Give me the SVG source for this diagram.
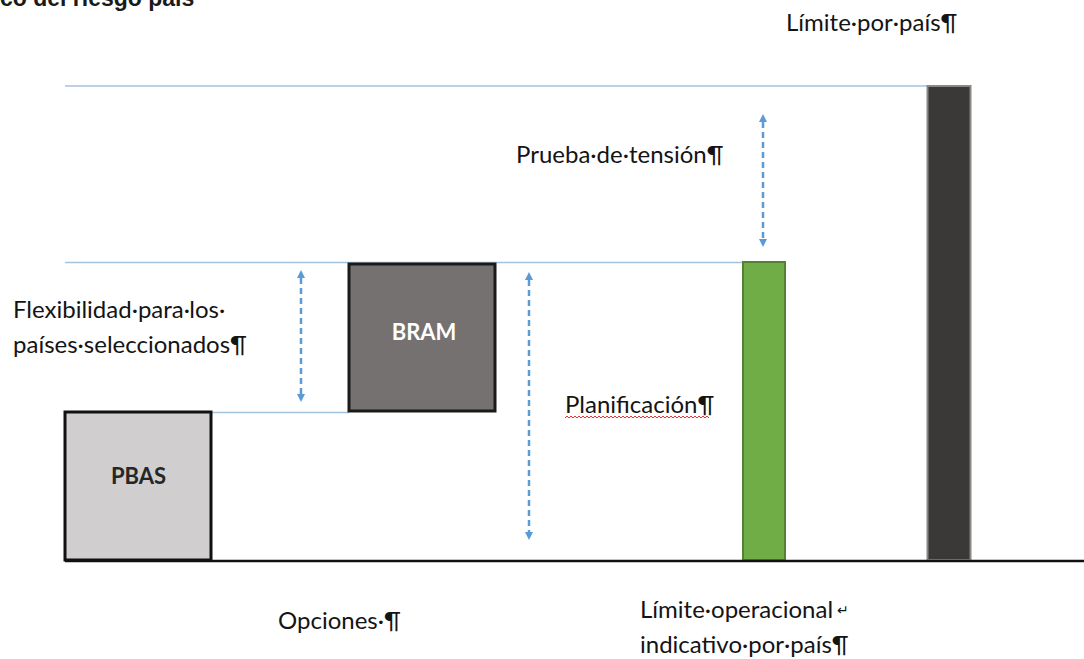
<svg xmlns="http://www.w3.org/2000/svg" width="1084" height="659" viewBox="0 0 1084 659">
<style>
.lbl{font-family:Lato,"Open Sans","Liberation Sans",sans-serif;font-size:24px;fill:#141414}
.ref{stroke:#a3c2de;stroke-width:1.5;fill:none}
.dim{stroke:#5b9bd5;stroke-width:2.5;stroke-dasharray:6 4;fill:none}
.box{font-family:Lato,"Open Sans","Liberation Sans",sans-serif;font-size:22px;font-weight:bold;text-anchor:middle}
</style>
<defs>
<marker id="ah" viewBox="0 0 10 10" refX="0" refY="5" markerUnits="userSpaceOnUse" markerWidth="8" markerHeight="10" orient="auto-start-reverse">
<path d="M0,0 L10,5 L0,10 z" fill="#5b9bd5"/>
</marker>
</defs>
<rect width="1084" height="659" fill="#ffffff"/>
<text x="0" y="6" font-family="Liberation Sans,Arial,sans-serif" font-size="23" font-weight="bold" fill="#1a1a1a">co del riesgo país</text>
<g id="guides">
<line class="ref" x1="65" y1="86" x2="927" y2="86"/>
<line class="ref" x1="65" y1="262.5" x2="743" y2="262.5"/>
<line class="ref" x1="212" y1="412.5" x2="349" y2="412.5"/>
</g>
<g id="pbas">
<rect x="65" y="412" width="146" height="148" fill="#d0cece" stroke="#111" stroke-width="3"/>
<text class="box" x="138.5" y="484" fill="#262626">PBAS</text>
</g>
<g id="bram">
<rect x="349" y="264" width="146" height="147" fill="#767171" stroke="#1a1a1a" stroke-width="3"/>
<text class="box" x="424" y="340" fill="#ffffff">BRAM</text>
</g>
<g id="operational-limit">
<rect x="743" y="262" width="42" height="298" fill="#70ad47" stroke="#548235" stroke-width="2"/>
</g>
<g id="country-limit">
<rect x="927.5" y="86" width="43" height="474" fill="#3b3838" stroke="#8a8787" stroke-width="2"/>
</g>
<line x1="65" y1="561" x2="1084" y2="561" stroke="#111" stroke-width="2.5"/>
<g id="connectors">
<line class="dim" x1="301" y1="278" x2="301" y2="394" marker-start="url(#ah)" marker-end="url(#ah)"/>
<line class="dim" x1="529" y1="280" x2="529" y2="532" marker-start="url(#ah)" marker-end="url(#ah)"/>
<line class="dim" x1="763" y1="122" x2="763" y2="239" marker-start="url(#ah)" marker-end="url(#ah)"/>
</g>
<g id="labels">
<text class="lbl" x="786" y="31">Límite·por·país¶</text>
<text class="lbl" x="516" y="163">Prueba·de·tensión¶</text>
<text class="lbl" x="13" y="318">Flexibilidad·para·los·</text>
<text class="lbl" x="13" y="353">países·seleccionados¶</text>
<text class="lbl" x="565" y="413">Planificación¶</text>
<path d="M565,418 l2,-2 l2,2 l2,-2 l2,2 l2,-2 l2,2 l2,-2 l2,2 l2,-2 l2,2 l2,-2 l2,2 l2,-2 l2,2 l2,-2 l2,2 l2,-2 l2,2 l2,-2 l2,2 l2,-2 l2,2 l2,-2 l2,2 l2,-2 l2,2 l2,-2 l2,2 l2,-2 l2,2 l2,-2 l2,2 l2,-2 l2,2 l2,-2 l2,2 l2,-2 l2,2 l2,-2 l2,2 l2,-2 l2,2 l2,-2 l2,2 l2,-2 l2,2 l2,-2 l2,2 l2,-2 l2,2 l2,-2 l2,2 l2,-2 l2,2 l2,-2 l2,2 l2,-2 l2,2 l2,-2 l2,2 l2,-2 l2,2 l2,-2 l2,2 l2,-2 l2,2 l2,-2 l2,2 l2,-2 l2,2 l2,-2 l2,2" fill="none" stroke="#e33" stroke-width="1"/>
<text class="lbl" x="278" y="629">Opciones·¶</text>
<text class="lbl" x="640" y="618">Límite·operacional<tspan font-size="14" dx="4" dy="-3">↵</tspan></text>
<text class="lbl" x="640" y="653">indicativo·por·país¶</text>
</g>
</svg>
